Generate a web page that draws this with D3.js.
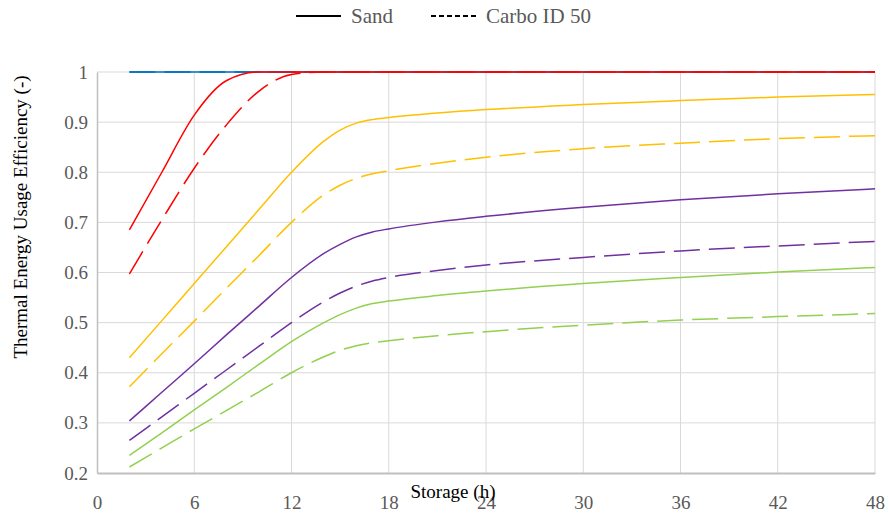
<!DOCTYPE html>
<html>
<head>
<meta charset="utf-8">
<script src="https://cdn.jsdelivr.net/npm/d3@7"></script>
<style>
  body { margin: 0; background: #fff; }
</style>
</head>
<body>
<div id="chart"></div>
<script>
// storage hours sampled along each curve
const hours = [2, 4, 6, 8, 10, 12, 14, 15, 16, 17, 18, 21, 24, 30, 36, 42, 48];

// efficiency values, one array per curve
const blueSand   = [1, 1, 1, 1, 1, 1, 1, 1, 1, 1, 1, 1, 1, 1, 1, 1, 1];
const blueCarbo  = [1, 1, 1, 1, 1, 1, 1, 1, 1, 1, 1, 1, 1, 1, 1, 1, 1];
const redSand    = [0.685, 0.80, 0.914, 0.983, 1, 1, 1, 1, 1, 1, 1, 1, 1, 1, 1, 1, 1];
const redCarbo   = [0.597, 0.705, 0.808, 0.895, 0.962, 0.995, 1, 1, 1, 1, 1, 1, 1, 1, 1, 1, 1];
const yellowSand = [0.43, 0.504, 0.578, 0.652, 0.726, 0.80, 0.862, 0.884, 0.898, 0.905, 0.909, 0.918, 0.925, 0.935, 0.943, 0.95, 0.955];
const yellowCarbo = [0.372, 0.438, 0.503, 0.569, 0.634, 0.70, 0.755, 0.774, 0.788, 0.797, 0.803, 0.818, 0.83, 0.847, 0.858, 0.867, 0.873];
const purpleSand = [0.304, 0.361, 0.418, 0.476, 0.533, 0.59, 0.638, 0.656, 0.671, 0.681, 0.687, 0.701, 0.712, 0.73, 0.745, 0.757, 0.767];
const purpleCarbo = [0.265, 0.312, 0.359, 0.406, 0.453, 0.50, 0.542, 0.559, 0.573, 0.583, 0.59, 0.604, 0.615, 0.63, 0.643, 0.653, 0.662];
const greenSand  = [0.235, 0.28, 0.326, 0.371, 0.417, 0.462, 0.5, 0.516, 0.529, 0.538, 0.543, 0.554, 0.563, 0.578, 0.59, 0.601, 0.61];
const greenCarbo = [0.212, 0.25, 0.288, 0.325, 0.362, 0.40, 0.432, 0.445, 0.454, 0.46, 0.464, 0.474, 0.482, 0.495, 0.505, 0.512, 0.518];

const xTicks = [0, 6, 12, 18, 24, 30, 36, 42, 48];
const yTicks = [0.2, 0.3, 0.4, 0.5, 0.6, 0.7, 0.8, 0.9, 1];
const legendLabels = ["Sand", "Carbo ID 50"];

// draw order matters: later curves sit on top
const series = [
    { values: blueSand,    color: "#0070C0", dashed: false },
    { values: blueCarbo,   color: "#0070C0", dashed: true },
    { values: redSand,     color: "#FF0000", dashed: false },
    { values: redCarbo,    color: "#FF0000", dashed: true },
    { values: yellowSand,  color: "#FFC000", dashed: false },
    { values: yellowCarbo, color: "#FFC000", dashed: true },
    { values: purpleSand,  color: "#7030A0", dashed: false },
    { values: purpleCarbo, color: "#7030A0", dashed: true },
    { values: greenSand,   color: "#92D050", dashed: false },
    { values: greenCarbo,  color: "#92D050", dashed: true }
];

const width = 890;
const height = 520;
const margin = { top: 72, right: 15, bottom: 47, left: 97 };
const serif = "'Liberation Serif', 'Times New Roman', Times, serif";

const svg = d3.select("#chart")
    .append("svg")
    .attr("width", width)
    .attr("height", height);

const x = d3.scaleLinear().domain([0, 48]).range([margin.left, width - margin.right]);
const y = d3.scaleLinear().domain([0.2, 1]).range([height - margin.bottom, margin.top]);

// gridlines
svg.append("g")
    .selectAll("line")
    .data(xTicks.slice(1))
    .enter()
    .append("line")
    .attr("x1", d => x(d)).attr("x2", d => x(d))
    .attr("y1", y(0.2)).attr("y2", y(1))
    .attr("stroke", "#D9D9D9")
    .attr("stroke-width", 1);

svg.append("g")
    .selectAll("line")
    .data(yTicks.slice(1))
    .enter()
    .append("line")
    .attr("x1", x(0)).attr("x2", x(48))
    .attr("y1", d => y(d)).attr("y2", d => y(d))
    .attr("stroke", "#D9D9D9")
    .attr("stroke-width", 1);

// axes
const xAxis = svg.append("g")
    .attr("transform", `translate(0,${y(0.2)})`)
    .call(d3.axisBottom(x).tickValues(xTicks).tickSize(0).tickPadding(23).tickFormat(d3.format("d")));
xAxis.select(".domain").attr("stroke", "#BFBFBF").attr("stroke-width", 2);
xAxis.selectAll("text")
    .attr("fill", "#595959")
    .style("font-family", serif)
    .style("font-size", "19px");

const yAxis = svg.append("g")
    .attr("transform", `translate(${x(0)},0)`)
    .call(d3.axisLeft(y).tickValues(yTicks).tickSize(0).tickPadding(9).tickFormat(d => d === 1 ? "1" : d3.format(".1f")(d)));
yAxis.select(".domain").attr("stroke", "#BFBFBF").attr("stroke-width", 1.5);
yAxis.selectAll("text")
    .attr("fill", "#595959")
    .style("font-family", serif)
    .style("font-size", "19px");

// curves
const line = d3.line()
    .x((d, i) => x(hours[i]))
    .y(d => y(d))
    .curve(d3.curveMonotoneX);

svg.append("g")
    .selectAll("path")
    .data(series)
    .enter()
    .append("path")
    .attr("d", d => line(d.values))
    .attr("fill", "none")
    .attr("stroke", d => d.color)
    .attr("stroke-width", 1.5)
    .attr("stroke-dasharray", d => d.dashed ? "26,9" : null);

// axis titles
svg.append("text")
    .attr("x", 453)
    .attr("y", 498)
    .attr("text-anchor", "middle")
    .style("font-family", serif)
    .style("font-size", "19px")
    .attr("fill", "#000")
    .text("Storage (h)");

svg.append("text")
    .attr("transform", "translate(27,217) rotate(-90)")
    .attr("text-anchor", "middle")
    .style("font-family", serif)
    .style("font-size", "19px")
    .attr("fill", "#000")
    .text("Thermal Energy Usage Efficiency (-)");

// legend
const legend = svg.append("g");
const legendX = [296, 431];
legendLabels.forEach((label, i) => {
    legend.append("line")
        .attr("x1", legendX[i]).attr("x2", legendX[i] + 45)
        .attr("y1", 16).attr("y2", 16)
        .attr("stroke", "#000")
        .attr("stroke-width", 2)
        .attr("stroke-dasharray", i === 1 ? "5,3" : null);
    legend.append("text")
        .attr("x", legendX[i] + 55)
        .attr("y", 23)
        .style("font-family", serif)
        .style("font-size", "21px")
        .attr("fill", "#595959")
        .text(label);
});
</script>
</body>
</html>
